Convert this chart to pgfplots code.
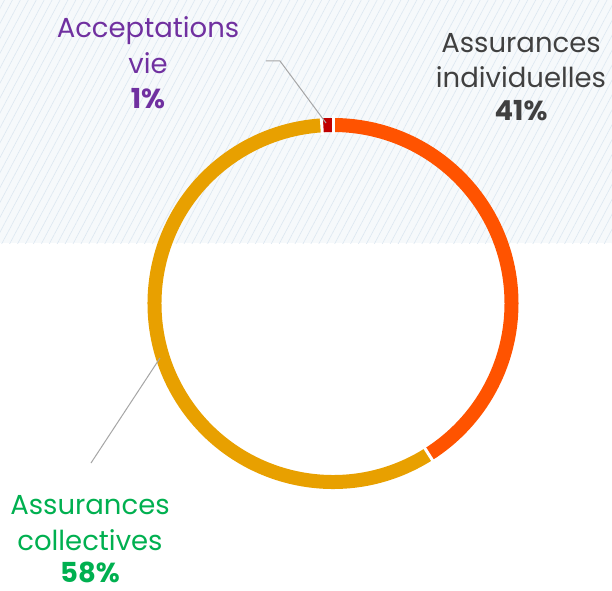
\documentclass[border=0pt]{standalone}
\usepackage{fontspec}
\setmainfont{Poppins}
\usepackage{pgfplots}
\pgfplotsset{compat=1.18}
\usetikzlibrary{patterns.meta}
\definecolor{cInd}{HTML}{FF5300}
\definecolor{cCol}{HTML}{E8A000}
\definecolor{cAcc}{HTML}{C00000}
\definecolor{tAcc}{HTML}{7030A0}
\definecolor{tInd}{HTML}{404040}
\definecolor{tCol}{HTML}{00B050}
\definecolor{bgA}{HTML}{F6F9FB}
\definecolor{bgL}{HTML}{DCE7F1}
\definecolor{lead}{HTML}{A6A6A6}
% shares (percent)
\def\shareInd{41}
\def\shareCol{58}
\def\shareAcc{1}
\pgfmathsetmacro\aA{90}
\pgfmathsetmacro\aB{\aA-3.6*\shareInd}
\pgfmathsetmacro\aC{\aB-3.6*\shareCol}
\pgfmathsetmacro\aD{\aC-3.6*\shareAcc}
\newcommand\lab[1]{\fontsize{27.5}{32}\selectfont #1}
\begin{document}
\begin{tikzpicture}
\begin{axis}[
  scale only axis, width=612pt, height=590pt,
  xmin=0, xmax=612, ymin=0, ymax=590,
  enlargelimits=false, hide axis, clip=false]
  % background
  \fill[white] (axis cs:0,0) rectangle (axis cs:612,590);
  \fill[bgA] (axis cs:0,347) rectangle (axis cs:612,590);
  \fill[pattern={Lines[angle=62,distance=7pt,line width=0.6pt]}, pattern color=bgL] (axis cs:0,347) rectangle (axis cs:612,590);
  % ring
  \coordinate (c) at (axis cs:333,286.5);
  \draw[cInd, line width=14pt] ([shift={(\aA:178.5pt)}]c) arc[start angle=\aA, end angle=\aB, radius=178.5pt];
  \draw[cCol, line width=14pt] ([shift={(\aB:178.5pt)}]c) arc[start angle=\aB, end angle=\aC, radius=178.5pt];
  \draw[cAcc, line width=14pt] ([shift={(\aC:178.5pt)}]c) arc[start angle=\aC, end angle=\aD, radius=178.5pt];
  \draw[white, line width=3pt] ([shift={(\aA:169pt)}]c) -- ([shift={(\aA:188pt)}]c);
  \draw[white, line width=3pt] ([shift={(\aB:169pt)}]c) -- ([shift={(\aB:188pt)}]c);
  \draw[white, line width=3pt] ([shift={(\aC:169pt)}]c) -- ([shift={(\aC:188pt)}]c);
  % leader lines
  \draw[lead, line width=1pt] (axis cs:266,529) -- (axis cs:280,529) -- (axis cs:326,467);
  \draw[lead, line width=1pt] (axis cs:91,127) -- (axis cs:160,232);
  % labels
  \begin{scope}[every node/.style={inner sep=0pt, anchor=base}]
  \node[tAcc] at (axis cs:148,552) {\lab{Acceptations}};
  \node[tAcc] at (axis cs:148,516) {\lab{vie}};
  \node[tAcc] at (axis cs:148,481) {\lab{\bfseries 1\%}};
  \node[tInd] at (axis cs:521,537) {\lab{Assurances}};
  \node[tInd] at (axis cs:521,502) {\lab{individuelles}};
  \node[tInd] at (axis cs:521,469) {\lab{\bfseries 41\%}};
  \node[tCol] at (axis cs:90,76) {\lab{Assurances}};
  \node[tCol] at (axis cs:90,40) {\lab{collectives}};
  \node[tCol] at (axis cs:90,8) {\lab{\bfseries 58\%}};
  \end{scope}
\end{axis}
\end{tikzpicture}
\end{document}
